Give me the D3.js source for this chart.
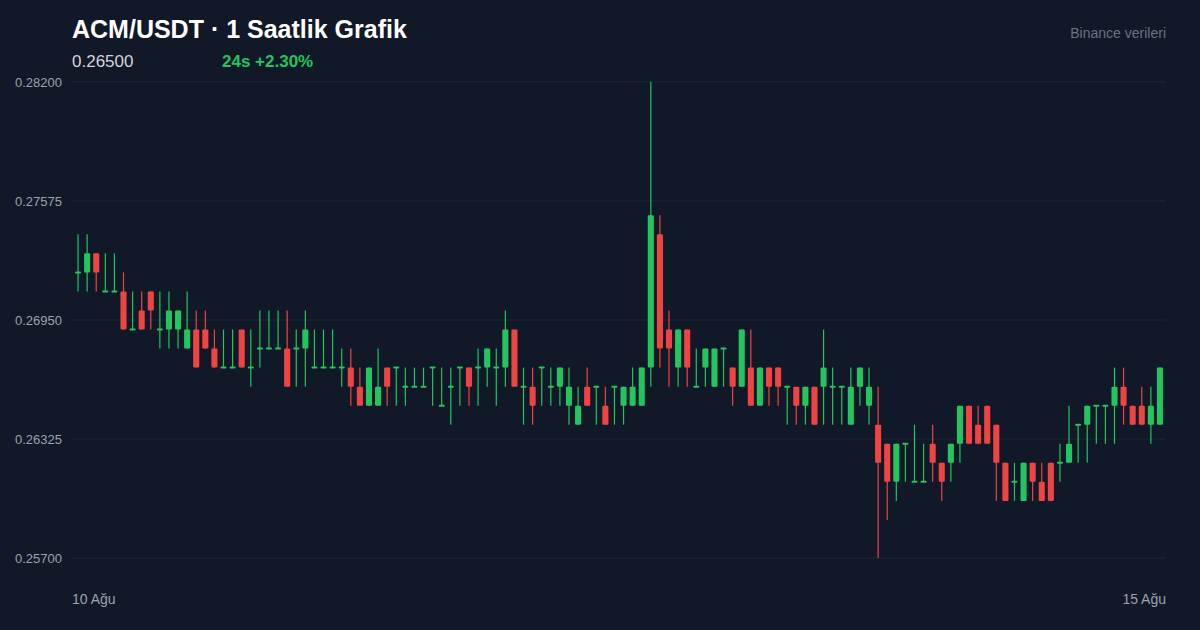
<!DOCTYPE html>
<html>
<head>
<meta charset="utf-8">
<script src="https://cdn.jsdelivr.net/npm/d3@7"></script>
<style>
  html, body { margin: 0; padding: 0; background: #111827; }
  svg { display: block; font-family: "Liberation Sans", Arial, sans-serif; }
</style>
</head>
<body>
<svg id="chart" width="1200" height="630"></svg>
<script>
// candles in thousandths of USDT (1 hour each)
const opens  = [272,272,273,271,271,271,269,270,271,269,269,269,268,269,269,268,267,267,269,267,
                268,268,268,268,268,268,267,267,267,267,267,266,265,265,267,267,266,266,266,267,
                265,266,267,267,267,267,267,267,269,266,266,267,266,266,265,264,266,266,265,266,
                265,265,265,267,274,269,267,269,266,267,266,268,267,266,267,265,267,267,266,266,
                265,266,266,266,266,264,266,265,264,263,261,263,261,261,263,262,262,263,265,264,
                265,264,262,261,260,262,261,262,262,262,264,264,265,265,265,266,265,265,264,264];
const highs  = [274,274,273,273,273,272,271,271,271,271,271,270,271,270,270,269,269,269,269,269,
                270,270,270,270,269,270,269,269,269,268,268,267,267,268,267,267,267,267,267,267,
                267,267,267,267,268,268,268,270,269,267,267,267,267,267,267,266,267,266,266,266,
                266,267,267,282,275,270,269,269,268,268,268,268,267,269,269,267,267,267,266,266,
                266,266,269,267,266,267,267,267,266,263,263,263,264,263,264,262,263,265,265,265,
                265,264,262,262,262,262,262,262,263,265,264,265,265,265,267,267,265,266,266,267];
const lows   = [271,271,271,271,271,269,269,269,269,268,268,268,268,267,268,267,267,267,267,266,
                267,268,268,266,266,266,267,267,267,266,265,265,265,265,265,265,265,266,266,265,
                265,264,265,265,265,266,265,266,266,264,264,265,265,265,264,264,265,264,264,264,
                264,265,265,266,267,266,266,266,266,266,266,266,265,266,265,265,265,265,264,264,
                264,264,264,264,264,264,265,264,257,259,260,261,261,261,261,260,261,262,263,263,
                263,260,260,260,260,260,260,260,261,262,262,262,263,263,263,264,264,264,263,264];
const closes = [272,273,272,271,271,269,269,269,270,269,270,270,269,267,268,267,267,267,267,267,
                268,268,268,266,268,269,267,267,267,267,266,265,267,266,266,267,266,266,266,267,
                265,266,267,266,267,268,267,269,266,266,265,267,266,267,266,265,265,266,264,266,
                266,266,267,275,268,268,269,267,266,268,268,268,266,269,265,267,266,266,266,265,
                266,264,267,266,266,266,267,266,262,261,263,263,261,261,262,261,263,265,263,263,
                263,262,260,261,262,261,260,260,262,263,264,265,265,265,266,265,264,264,265,267];
const yTicks = [0.282, 0.27575, 0.2695, 0.26325, 0.257];
const xLabels = ["10 Ağu", "15 Ağu"];

const candles = opens.map((o, i) => ({
  o: o / 1000, h: highs[i] / 1000, l: lows[i] / 1000, c: closes[i] / 1000
}));

const svg = d3.select("#chart");
const W = 1200, H = 630;
const mLeft = 72, mRight = 1166, mTop = 82, mBottom = 558;

svg.append("rect").attr("width", W).attr("height", H).attr("fill", "#111827");

const x = d3.scaleBand().domain(d3.range(candles.length)).range([mLeft, mRight]).padding(0.33);
const y = d3.scaleLinear().domain([0.257, 0.282]).range([mBottom, mTop]);

// grid
svg.append("g").selectAll("line").data(yTicks).join("line")
  .attr("x1", mLeft).attr("x2", mRight)
  .attr("y1", d => y(d)).attr("y2", d => y(d))
  .attr("stroke", "#1f2937").attr("stroke-width", 1);

svg.append("g").selectAll("text").data(yTicks).join("text")
  .attr("x", 62).attr("y", d => y(d) + 4.5)
  .attr("text-anchor", "end").attr("fill", "#9ca3af").attr("font-size", 13)
  .text(d => d3.format(".5f")(d));

// candles
const g = svg.append("g");
const col = d => d.c >= d.o ? "#22c55e" : "#ef4444";
const cx = i => x(i) + x.bandwidth() / 2;

g.selectAll(".wick").data(candles).join("line")
  .attr("x1", (d, i) => cx(i)).attr("x2", (d, i) => cx(i))
  .attr("y1", d => y(d.h)).attr("y2", d => y(d.l))
  .attr("stroke", col).attr("stroke-width", 1.2);

g.selectAll(".body").data(candles).join("rect")
  .attr("x", (d, i) => x(i)).attr("width", x.bandwidth())
  .attr("y", d => y(Math.max(d.o, d.c)) - (d.o === d.c ? 1 : 0))
  .attr("height", d => Math.max(2, Math.abs(y(d.o) - y(d.c))))
  .attr("rx", 1)
  .attr("fill", col);

// header
svg.append("text").attr("x", 72).attr("y", 38).attr("fill", "#ffffff")
  .attr("font-size", 25).attr("font-weight", "bold").text("ACM/USDT · 1 Saatlik Grafik");
svg.append("text").attr("x", 72).attr("y", 67).attr("fill", "#d1d5db")
  .attr("font-size", 17).text("0.26500");
svg.append("text").attr("x", 222).attr("y", 67).attr("fill", "#22c55e")
  .attr("font-size", 17).attr("font-weight", "bold").text("24s +2.30%");
svg.append("text").attr("x", 1166).attr("y", 38).attr("text-anchor", "end")
  .attr("fill", "#6b7280").attr("font-size", 14).text("Binance verileri");

// x labels
svg.append("text").attr("x", mLeft).attr("y", 604).attr("fill", "#9ca3af")
  .attr("font-size", 14).text(xLabels[0]);
svg.append("text").attr("x", mRight).attr("y", 604).attr("text-anchor", "end")
  .attr("fill", "#9ca3af").attr("font-size", 14).text(xLabels[1]);
</script>
</body>
</html>
